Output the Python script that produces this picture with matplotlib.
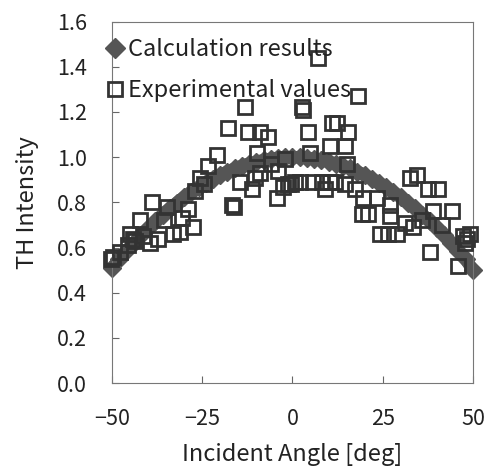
import matplotlib
matplotlib.use('Agg')
import matplotlib.pyplot as plt

plt.rcParams['font.family'] = ['Noto Sans CJK JP', 'DejaVu Sans']

# calculation results (every 2 deg)
calc_angle = [-50, -48, -46, -44, -42, -40, -38, -36, -34, -32, -30, -28, -26,
              -24, -22, -20, -18, -16, -14, -12, -10, -8, -6, -4, -2, 0,
              2, 4, 6, 8, 10, 12, 14, 16, 18, 20, 22, 24, 26,
              28, 30, 32, 34, 36, 38, 40, 42, 44, 46, 48, 50]
calc_int = [0.51, 0.548, 0.585, 0.621, 0.654, 0.686, 0.717, 0.746, 0.773, 0.799,
            0.824, 0.846, 0.867, 0.887, 0.905, 0.922, 0.936, 0.950, 0.962, 0.972,
            0.980, 0.987, 0.993, 0.997, 0.999, 1.0,
            0.999, 0.997, 0.993, 0.987, 0.980, 0.972, 0.962, 0.950, 0.936, 0.922,
            0.905, 0.887, 0.867, 0.846, 0.824, 0.799, 0.773, 0.746, 0.717, 0.686,
            0.654, 0.621, 0.585, 0.548, 0.50]

# experimental values
exp_angle = [-49.7, -50.2, -47.8, -45.6, -45.0, -44.2, -43.6, -42.2, -41.4, -39.5,
             -38.9, -37.3, -34.8, -33.1, -30.6, -31.2, -27.6, -29.0, -27.0, -25.6,
             -24.5, -23.4, -20.9, -17.9, -16.8, -16.3, -14.5, -13.2, -12.3, -11.2,
             -10.4, -9.8, -9.0, -9.0, -6.8, -4.0, -4.3, -2.5, -1.2, -0.3,
             0.7, 2.1, 2.6, 3.0, 4.3, 5.7, 7.1, 8.2, 9.0, 10.4,
             10.4, 10.9, 11.8, 12.3, 14.5, 14.5, 15.4, 17.3, 18.1, 19.5,
             19.3, 20.9, 23.4, 24.2, 26.5, 27.0, 27.0, 29.0, 31.2, 32.5,
             33.4, 34.5, 36.0, 37.5, 38.1, 38.9, 40.3, 41.5, 44.2, 45.8,
             47.2, 47.8, 49.2, 48.5, -6.0, 5.0, -2.0, 15.0, -35.5]
exp_int = [0.56, 0.55, 0.58, 0.61, 0.66, 0.64, 0.63, 0.72, 0.65, 0.62,
           0.80, 0.64, 0.78, 0.66, 0.73, 0.67, 0.69, 0.77, 0.85, 0.91,
           0.88, 0.96, 1.01, 1.13, 0.79, 0.78, 0.89, 1.22, 1.11, 0.86,
           0.91, 1.02, 1.11, 0.93, 1.09, 0.94, 0.82, 0.87, 0.88, 0.88,
           0.89, 0.89, 1.22, 1.21, 1.11, 0.89, 1.44, 0.89, 0.86, 0.89,
           1.05, 1.15, 0.89, 1.15, 1.05, 0.88, 1.11, 0.86, 1.27, 0.82,
           0.75, 0.75, 0.82, 0.66, 0.66, 0.79, 0.74, 0.66, 0.71, 0.91,
           0.69, 0.92, 0.72, 0.86, 0.58, 0.76, 0.86, 0.70, 0.76, 0.52,
           0.65, 0.62, 0.66, 0.64, 0.97, 1.02, 0.99, 0.97, 0.72]

fig = plt.figure(figsize=(4.89, 4.69), dpi=100)
ax = fig.add_axes([0.229, 0.183, 0.738, 0.771])

ax.plot(calc_angle, calc_int, color='#555555', lw=9, marker='D', ms=9,
        mfc='#555555', mec='#555555', label='Calculation results', zorder=2,
        solid_capstyle='butt', clip_on=False)
ax.plot(exp_angle, exp_int, ls='none', marker='s', ms=9.5, mfc='none',
        mec='#333333', mew=2, label='Experimental values', zorder=3,
        clip_on=False)

ax.set_xlim(-50, 50)
ax.set_ylim(0, 1.6)
ax.set_xticks([-50, -25, 0, 25, 50])
ax.set_yticks([0.0, 0.2, 0.4, 0.6, 0.8, 1.0, 1.2, 1.4, 1.6])
ax.set_yticklabels(['0.0', '0.2', '0.4', '0.6', '0.8', '1.0', '1.2', '1.4', '1.6'])
ax.tick_params(direction='in', length=5, width=0.8, color='#666666',
               labelsize=15.5, pad=18, labelcolor='#222222')
for s in ax.spines.values():
    s.set_color('#777777')
    s.set_linewidth(0.8)

ax.set_xlabel('Incident Angle [deg]', fontsize=17, labelpad=9, color='#222222')
ax.set_ylabel('TH Intensity', fontsize=17, labelpad=13, color='#222222')

leg = ax.legend(loc='upper left', bbox_to_anchor=(-0.035, 0.98), frameon=False,
                fontsize=17, handlelength=0.5, handletextpad=0.3,
                labelspacing=0.75, borderaxespad=0)
for t in leg.get_texts():
    t.set_color('#222222')
leg.legend_handles[0].set_linewidth(0)
leg.legend_handles[0].set_markersize(10)

fig.savefig('out.png', dpi=100)
